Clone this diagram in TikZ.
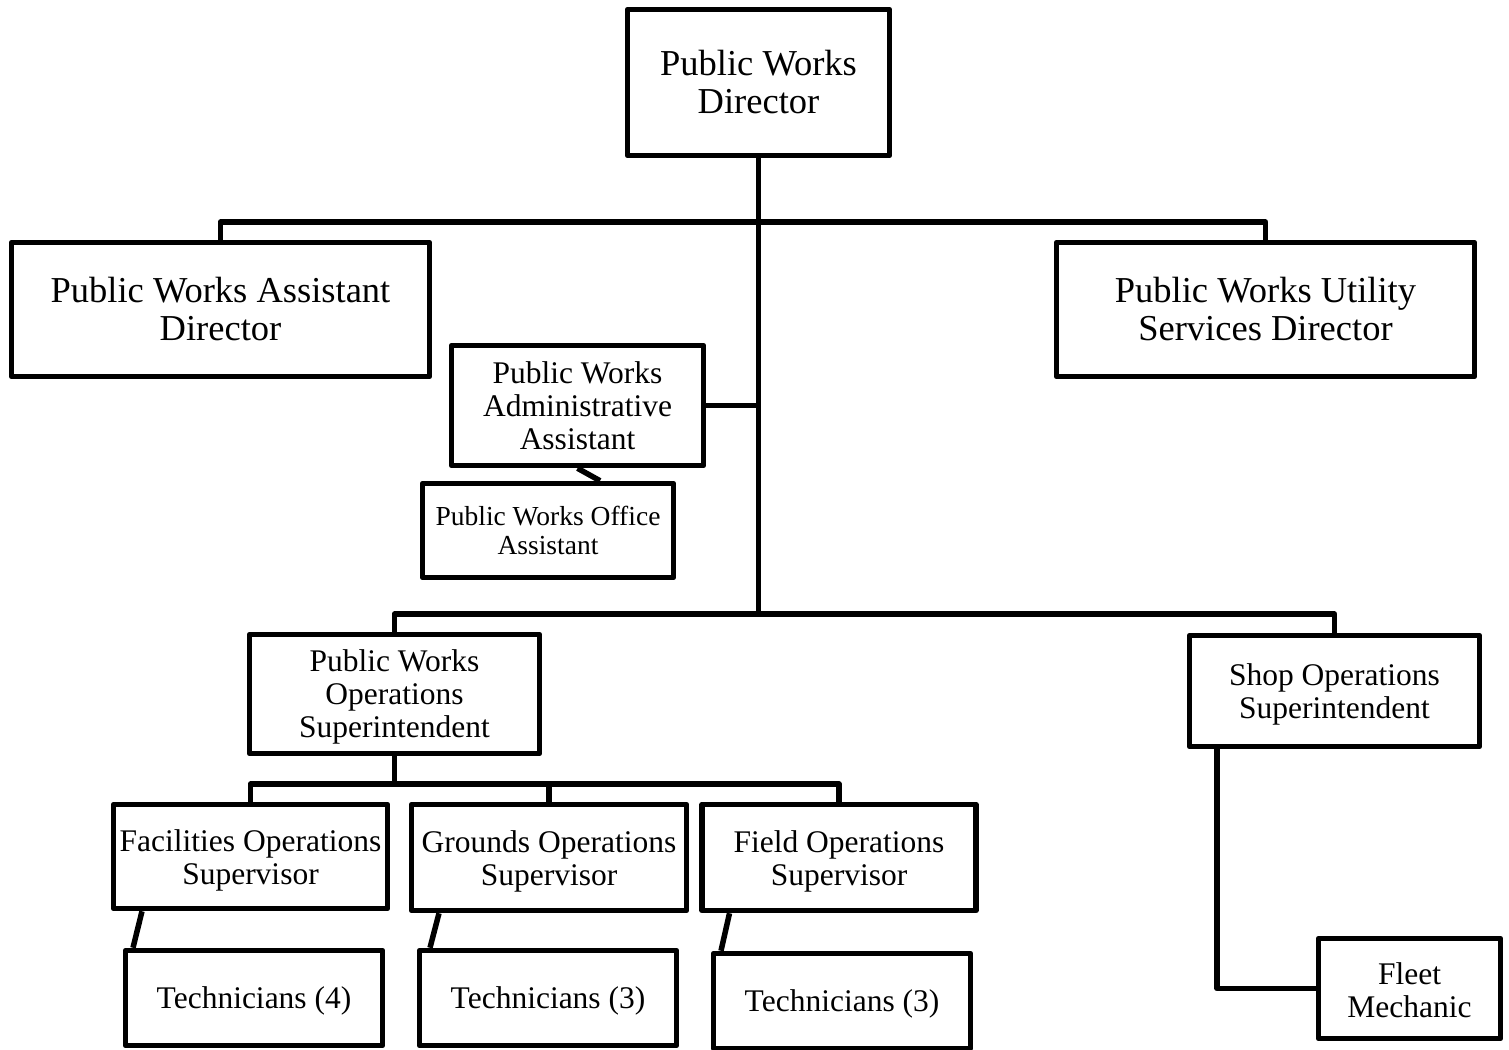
\documentclass[tikz,border=0pt]{standalone}
\usepackage{fontspec}
\setmainfont{Liberation Serif}
\begin{document}
\begin{tikzpicture}[x=1pt,y=-1pt,
  box/.style={draw, line width=5.5pt, line join=round, inner sep=0pt},
  txt/.style={align=center, inner sep=0pt},
  big/.style={font=\fontsize{36.5}{38}\selectfont},
  mid/.style={font=\fontsize{31.5}{33}\selectfont},
  small/.style={font=\fontsize{27.5}{29}\selectfont},
  link/.style={line width=5.5pt, line join=round}]
\useasboundingbox (0,0) rectangle (1509,1049);

% boxes
\node[box,minimum width=262,minimum height=146] (dir) at (758.5,82.5) {};
\node[box,minimum width=418,minimum height=134] (asst) at (220.5,309.5) {};
\node[box,minimum width=418,minimum height=134] (util) at (1265.5,309.5) {};
\node[box,minimum width=252,minimum height=120] (admin) at (577.5,405.5) {};
\node[box,minimum width=251,minimum height=94] (office) at (548,530.5) {};
\node[box,minimum width=290,minimum height=119] (opsup) at (394.5,694) {};
\node[box,minimum width=290,minimum height=111] (shop) at (1334.5,691) {};
\node[box,minimum width=274,minimum height=104] (fac) at (250.5,856.5) {};
\node[box,minimum width=275,minimum height=106] (grd) at (549,857.5) {};
\node[box,minimum width=274,minimum height=106] (fld) at (839,857.5) {};
\node[box,minimum width=257,minimum height=95] (tech4) at (254,998) {};
\node[box,minimum width=257,minimum height=95] (tech3a) at (548,998) {};
\node[box,minimum width=257,minimum height=95] (tech3b) at (842,1001) {};
\node[box,minimum width=182,minimum height=100] (fleet) at (1409.5,988.5) {};

% titles
\node[txt,big] (dirT) at (dir.center) {Public Works\\Director};
\node[txt,big] (asstT) at (asst.center) {Public Works Assistant\\Director};
\node[txt,big] (utilT) at (util.center) {Public Works Utility\\Services Director};
\node[txt,mid] (adminT) at (admin.center) {Public Works\\Administrative\\Assistant};
\node[txt,small] (officeT) at (office.center) {Public Works Office\\Assistant};
\node[txt,mid] (opsupT) at ([yshift=-3pt]opsup.center) {Public Works\\Operations\\Superintendent};
\node[txt,mid] (shopT) at ([yshift=-3.5pt]shop.center) {Shop Operations\\Superintendent};
\node[txt,mid] (facT) at ([yshift=-3.5pt]fac.center) {Facilities Operations\\Supervisor};
\node[txt,mid] (grdT) at ([yshift=-3.5pt]grd.center) {Grounds Operations\\Supervisor};
\node[txt,mid] (fldT) at ([yshift=-3.5pt]fld.center) {Field Operations\\Supervisor};
\node[txt,mid] (tech4T) at ([yshift=-3pt]tech4.center) {Technicians (4)};
\node[txt,mid] (tech3aT) at ([yshift=-3pt]tech3a.center) {Technicians (3)};
\node[txt,mid] (tech3bT) at ([yshift=-3pt]tech3b.center) {Technicians (3)};
\node[txt,mid] (fleetT) at ([yshift=-2pt]fleet.center) {Fleet\\Mechanic};

% junctions of the trunk lines
\coordinate (j1) at (758.5,222);
\coordinate (j2) at (758.5,614);
\coordinate (j3) at (394.5,784);

% connectors
\draw[link] (dir.south) -- (j2);
\draw[link] (asst.north) |- (j1) -| (util.north);
\draw[link] (admin.east) -- (admin.east -| j1);
\draw[link] (admin.south) -- ([xshift=52pt]office.north);
\draw[link] (opsup.north) |- (j2) -| (shop.north);
\draw[link] (opsup.south) -- (j3);
\draw[link] (fac.north) |- (j3) -| (fld.north);
\draw[link] (grd.north) -- (grd.north |- j3);
\draw[link] ([xshift=-108.5pt]fac.south) -- ([xshift=-121pt]tech4.north);
\draw[link] ([xshift=-110pt]grd.south) -- ([xshift=-118pt]tech3a.north);
\draw[link] ([xshift=-109.5pt]fld.south) -- ([xshift=-121pt]tech3b.north);
\draw[link] ([xshift=-117.5pt]shop.south) |- (fleet.west);
\end{tikzpicture}
\end{document}
